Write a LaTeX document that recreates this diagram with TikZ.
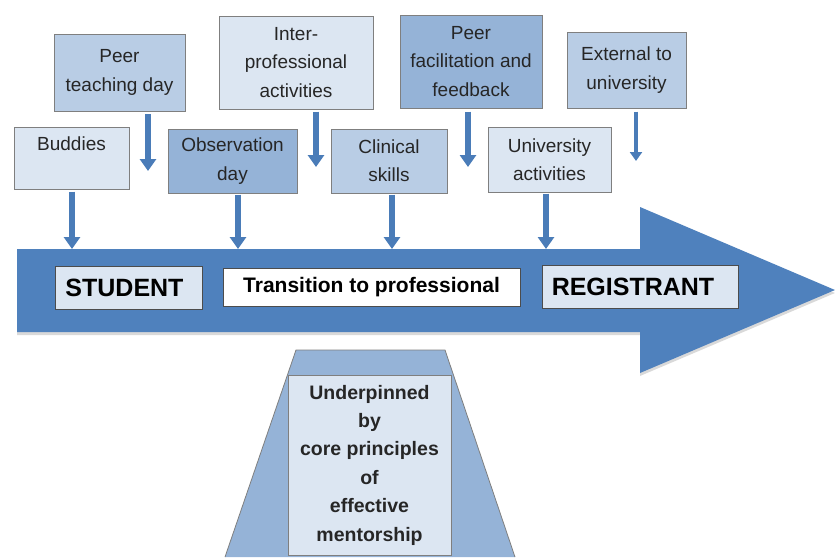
\documentclass[tikz,border=0pt]{standalone}
\usepackage{fontspec}
\setmainfont{Liberation Sans}
\usetikzlibrary{arrows.meta}
\definecolor{arrowblue}{HTML}{4F81BD}
\definecolor{linkblue}{HTML}{4A7CB8}
\definecolor{paleblue}{HTML}{DCE6F2}
\definecolor{midblue}{HTML}{B9CDE5}
\definecolor{deepblue}{HTML}{95B3D7}
\definecolor{boxline}{HTML}{7F7F7F}
\definecolor{txt}{HTML}{262626}
\begin{document}
\begin{tikzpicture}[x=1pt,y=-1pt,
	box/.style={draw=boxline,line width=1pt,align=center,inner sep=0pt,text=txt,font=\fontsize{19}{28.3}\selectfont},
	tag/.style={draw=black!70,line width=0.8pt,fill=paleblue,inner sep=0pt,font=\bfseries\fontsize{25}{30}\selectfont},
	link/.style={line width=6pt,linkblue,-{Triangle[width=16pt,length=12pt]}},
	thin link/.style={line width=4.5pt,linkblue,-{Triangle[width=12pt,length=9pt]}}]
	\useasboundingbox (0,0) rectangle (835,557);
	% the long arrow
	\fill[gray!30,shift={(0,3)}] (17,249)--(640,249)--(640,207)--(835,290)--(640,373)--(640,332)--(17,332)--cycle;
	\fill[arrowblue] (17,249)--(640,249)--(640,207)--(835,290)--(640,373)--(640,332)--(17,332)--cycle;
	\coordinate (b1) at (72,249);
	\coordinate (b2) at (238,249);
	\coordinate (b3) at (392,249);
	\coordinate (b4) at (546,249);
	\coordinate (p1) at (148,171);
	\coordinate (p2) at (316,167);
	\coordinate (p3) at (468,167);
	\coordinate (p4) at (636,161);
	% upper row
	\node[box,fill=midblue,minimum width=131,minimum height=77] (peer) at (119.5,72.5) {Peer\\teaching day};
	\node[box,fill=paleblue,minimum width=154,minimum height=93] (inter) at (296,62.5) {Inter-\\professional\\activities};
	\node[box,fill=deepblue,minimum width=142,minimum height=93] (facil) at (471,61.5) {Peer\\facilitation and\\feedback};
	\node[box,fill=midblue,minimum width=119,minimum height=76] (extern) at (626.5,70) {External to\\university};
	% lower row
	\node[box,fill=paleblue,minimum width=115,minimum height=62] (buddy) at (71.5,158) {Buddies\\\mbox{}};
	\node[box,fill=deepblue,minimum width=129,minimum height=64] (observe) at (232.5,161) {Observation\\day};
	\node[box,fill=midblue,minimum width=116,minimum height=64] (clinic) at (389,161) {Clinical\\skills};
	\node[box,fill=paleblue,minimum width=123,minimum height=65] (univ) at (549.5,159.5) {University\\activities};
	\draw[link,shorten <=2.5pt] (peer.south -| p1) -- (p1);
	\draw[link,shorten <=2pt] (inter.south -| p2) -- (p2);
	\draw[link,shorten <=3pt] (facil.south -| p3) -- (p3);
	\draw[thin link,shorten <=3pt] (extern.south -| p4) -- (p4);
	\draw[link,shorten <=2pt] (buddy.south -| b1) -- (b1);
	\draw[link,shorten <=1pt] (observe.south -| b2) -- (b2);
	\draw[link,shorten <=1pt] (clinic.south -| b3) -- (b3);
	\draw[link,shorten <=1pt] (univ.south -| b4) -- (b4);
	% on the arrow
	\node[tag,minimum width=147,minimum height=43] (student) at (128.5,287.5) {\hspace*{-8pt}STUDENT};
	\node[tag,fill=white,minimum width=297,minimum height=38,font=\bfseries\fontsize{21}{25}\selectfont] (trans) at (371.5,287) {Transition to professional};
	\node[tag,minimum width=196,minimum height=43] (regist) at (640,286.5) {\hspace*{-14pt}REGISTRANT};
	% base
	\filldraw[fill=deepblue,draw=boxline,line width=0.8pt] (225,557)--(296,350)--(445,350)--(515,557);
	\node[box,fill=paleblue,minimum width=163,minimum height=180,font=\bfseries\fontsize{19.5}{28.4}\selectfont] (base) at (369.5,465) {Underpinned\\by\\core principles\\of\\effective\\mentorship};
\end{tikzpicture}
\end{document}
